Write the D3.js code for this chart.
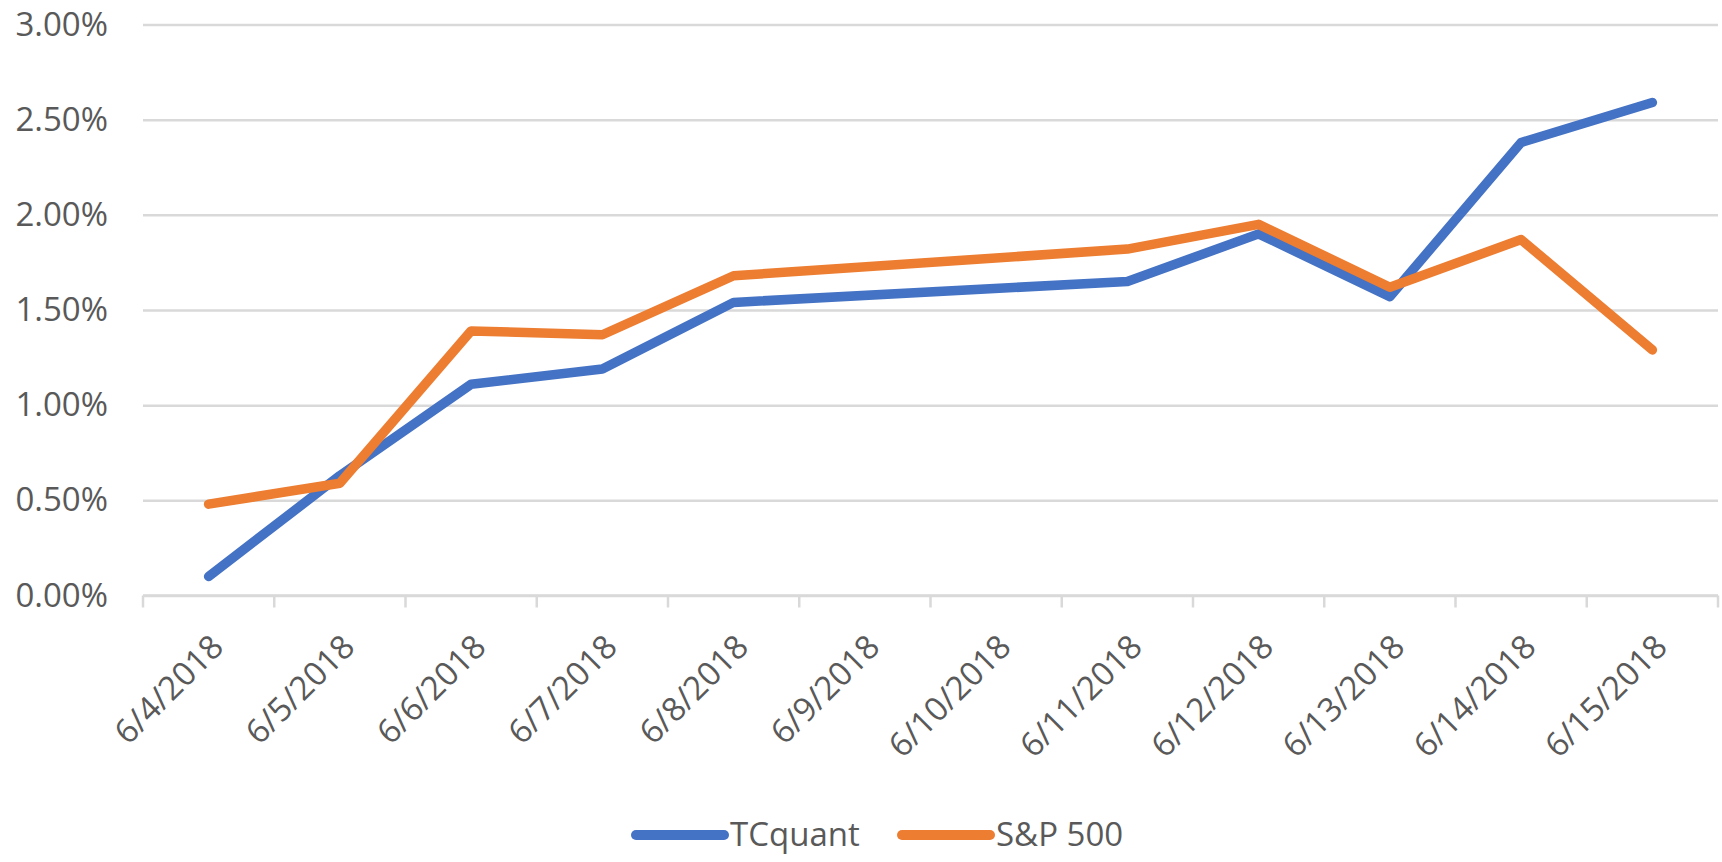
<!DOCTYPE html>
<html>
<head>
<meta charset="utf-8">
<script src="https://cdn.jsdelivr.net/npm/d3@7"></script>
<style>
	html, body { margin: 0; padding: 0; background: #ffffff; }
	svg text { font-family: "Open Sans", "DejaVu Sans", sans-serif; fill: #595959; }
</style>
</head>
<body>
<div id="chart"></div>
<script>
// categories on the date axis (weekend days have no values)
var dates = ["6/4/2018", "6/5/2018", "6/6/2018", "6/7/2018", "6/8/2018", "6/9/2018",
	"6/10/2018", "6/11/2018", "6/12/2018", "6/13/2018", "6/14/2018", "6/15/2018"];

// cumulative returns, in percent
var tcquant = [0.10, 0.63, 1.11, 1.19, 1.54, null, null, 1.65, 1.90, 1.57, 2.38, 2.59];
var sp500   = [0.48, 0.59, 1.39, 1.37, 1.68, null, null, 1.82, 1.95, 1.62, 1.87, 1.29];

var yTicks = [0, 0.5, 1, 1.5, 2, 2.5, 3];

var seriesNames  = ["TCquant", "S&P 500"];
var seriesColors = ["#4472C4", "#ED7D31"];

/* **************************************************************************
 * drawChart
 *
 * Build the svg, the scales, the axes and the two series lines.
 ****************************************************************************/
function drawChart()
{
	var width = 1722, height = 862;
	var plot = { left: 143, right: 1718, top: 24.5, bottom: 595.5 };
	var fontSize = 33;

	var svg = d3.select("#chart").append("svg")
		.attr("width", width)
		.attr("height", height);

	var x = d3.scaleBand()
		.domain(dates)
		.range([plot.left, plot.right])
		.padding(0);

	var y = d3.scaleLinear()
		.domain([0, 3])
		.range([plot.bottom, plot.top]);

	// horizontal gridlines and y labels
	var yAxis = d3.axisLeft(y)
		.tickValues(yTicks)
		.tickSize(-(plot.right - plot.left))
		.tickPadding(35)
		.tickFormat(function (d) { return d.toFixed(2) + "%"; });

	var yg = svg.append("g")
		.attr("transform", "translate(" + plot.left + ",0)")
		.call(yAxis);
	yg.select(".domain").remove();
	yg.selectAll(".tick line")
		.attr("stroke", "#d9d9d9")
		.attr("stroke-width", 2.5);
	yg.selectAll(".tick text")
		.attr("font-size", fontSize)
		.attr("fill", "#595959");

	// category axis: line plus tick marks between the categories
	var xg = svg.append("g");
	xg.append("line")
		.attr("x1", plot.left).attr("x2", plot.right)
		.attr("y1", plot.bottom).attr("y2", plot.bottom)
		.attr("stroke", "#d9d9d9")
		.attr("stroke-width", 2.5);

	var edges = dates.map(function (d) { return x(d); }).concat([x.range()[1]]);
	xg.selectAll("line.tick")
		.data(edges)
		.enter().append("line")
		.attr("class", "tick")
		.attr("x1", function (d) { return d; })
		.attr("x2", function (d) { return d; })
		.attr("y1", plot.bottom)
		.attr("y2", plot.bottom + 12)
		.attr("stroke", "#d9d9d9")
		.attr("stroke-width", 2.5);

	xg.selectAll("text")
		.data(dates)
		.enter().append("text")
		.attr("transform", function (d) {
			return "translate(" + (x(d) + x.bandwidth() / 2) + "," + 632 + ") rotate(-45)";
		})
		.attr("text-anchor", "end")
		.attr("dy", "0.72em")
		.attr("font-size", fontSize)
		.text(function (d) { return d; });

	// series lines; missing days are skipped so the line runs straight over them
	var line = d3.line()
		.x(function (d) { return x(d.date) + x.bandwidth() / 2; })
		.y(function (d) { return y(d.value); });

	[tcquant, sp500].forEach(function (values, i) {
		var pts = dates.map(function (d, j) { return { date: d, value: values[j] }; })
			.filter(function (p) { return p.value !== null; });

		svg.append("path")
			.datum(pts)
			.attr("fill", "none")
			.attr("stroke", seriesColors[i])
			.attr("stroke-width", 9.5)
			.attr("stroke-linecap", "round")
			.attr("stroke-linejoin", "round")
			.attr("d", line);
	});

	// legend below the axis labels
	var legendX = [636, 902];
	var legend = svg.append("g");
	seriesNames.forEach(function (name, i) {
		legend.append("line")
			.attr("x1", legendX[i]).attr("x2", legendX[i] + 88)
			.attr("y1", 835).attr("y2", 835)
			.attr("stroke", seriesColors[i])
			.attr("stroke-width", 10)
			.attr("stroke-linecap", "round");
		legend.append("text")
			.attr("x", legendX[i] + 94)
			.attr("y", 846)
			.attr("font-size", fontSize)
			.text(name);
	});
}

drawChart();
</script>
</body>
</html>
